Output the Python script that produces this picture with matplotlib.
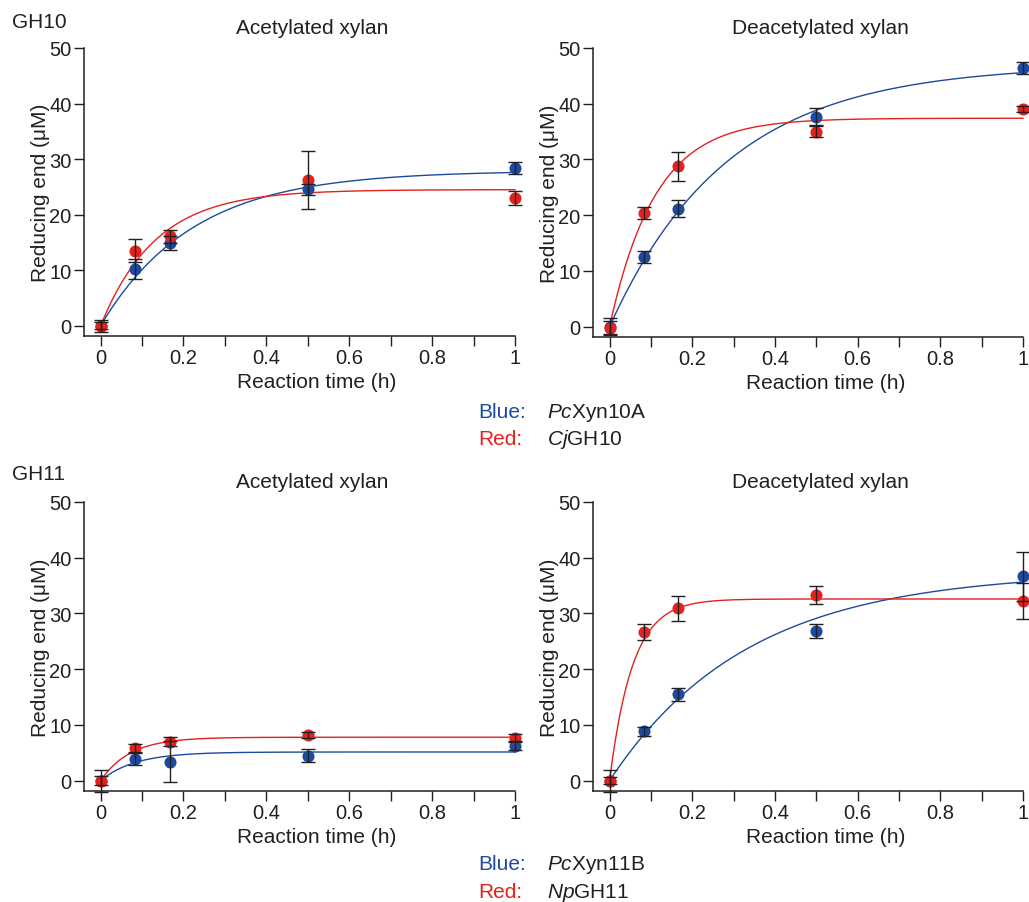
#!/usr/bin/env python
"""
plot.py
=======
Reducing-end release by GH10 / GH11 xylanases on acetylated and deacetylated xylan.
"""
import numpy as np
import matplotlib
matplotlib.use("Agg")
import matplotlib.pyplot as plt

plt.rcParams['font.family'] = ['Liberation Sans', 'DejaVu Sans']
plt.rcParams['mathtext.fontset'] = 'custom'
plt.rcParams['mathtext.rm'] = 'Liberation Sans'
plt.rcParams['mathtext.it'] = 'Liberation Sans:italic'

INK = '#231f20'
BLUE = '#1d4a9e'
RED = '#e3211d'

# reaction time (h): 0, 5, 10, 30, 60 min
time_h = [0, 0.0833, 0.1667, 0.5, 1.0]

# GH10, acetylated xylan
gh10_ac_blue = [0.0, 10.3, 14.9, 24.6, 28.4]
gh10_ac_blue_err = [1.1, 1.8, 1.3, 1.0, 1.1]
gh10_ac_red = [0.0, 13.5, 16.1, 26.3, 23.0]
gh10_ac_red_err = [0.6, 2.1, 1.2, 5.2, 1.2]
# GH10, deacetylated xylan
gh10_de_blue = [0.0, 12.5, 21.2, 37.7, 46.4]
gh10_de_blue_err = [1.5, 1.1, 1.6, 1.6, 1.0]
gh10_de_red = [-0.2, 20.4, 28.8, 35.0, 39.1]
gh10_de_red_err = [1.2, 1.0, 2.6, 1.0, 0.5]
# GH11, acetylated xylan
gh11_ac_blue = [0.0, 3.9, 3.4, 4.5, 6.2]
gh11_ac_blue_err = [2.0, 1.0, 3.7, 1.1, 0.7]
gh11_ac_red = [0.0, 5.8, 7.0, 8.2, 7.7]
gh11_ac_red_err = [0.8, 0.7, 0.8, 0.6, 0.6]
# GH11, deacetylated xylan
gh11_de_blue = [0.0, 8.9, 15.5, 26.9, 36.7]
gh11_de_blue_err = [2.0, 0.8, 1.2, 1.3, 4.4]
gh11_de_red = [0.0, 26.7, 30.9, 33.3, 32.2]
gh11_de_red_err = [0.6, 1.4, 2.3, 1.6, 3.2]

# first-order fits y = plateau * (1 - exp(-k t))
fit_plateau = {'gh10_ac': (27.9, 24.5), 'gh10_de': (47.0, 37.4),
               'gh11_ac': (5.15, 7.8), 'gh11_de': (37.5, 32.6)}
fit_rate = {'gh10_ac': (4.5, 7.5), 'gh10_de': (3.5, 9.0),
            'gh11_ac': (12.0, 14.0), 'gh11_de': (3.0, 18.0)}

panels = [
    ('gh10_ac', 'Acetylated xylan', gh10_ac_blue, gh10_ac_blue_err, gh10_ac_red, gh10_ac_red_err),
    ('gh10_de', 'Deacetylated xylan', gh10_de_blue, gh10_de_blue_err, gh10_de_red, gh10_de_red_err),
    ('gh11_ac', 'Acetylated xylan', gh11_ac_blue, gh11_ac_blue_err, gh11_ac_red, gh11_ac_red_err),
    ('gh11_de', 'Deacetylated xylan', gh11_de_blue, gh11_de_blue_err, gh11_de_red, gh11_de_red_err),
]

W, H = 1029, 903
fig = plt.figure(figsize=(W / 100., H / 100.), dpi=100)

# axes rectangles in pixels: left, top(of y=50), right(x=1), bottom(spine)
rects = [(84, 49, 515, 337), (593, 49, 1023, 338),
         (84, 503, 515, 792), (593, 503, 1023, 792)]

t = np.linspace(0, 1, 300)
for (key, title, yb, eb, yr, er), (l, tp, r, b) in zip(panels, rects):
    ax = fig.add_axes([l / W, 1 - b / H, (r - l) / W, (b - tp) / H])
    ax.set_xlim(-0.04, 1.0)
    ax.set_ylim(-1.85, 50)
    for s in ('top', 'right'):
        ax.spines[s].set_visible(False)
    for s in ('left', 'bottom'):
        ax.spines[s].set_color(INK)
        ax.spines[s].set_linewidth(1.1)

    (Ab, Ar), (kb, kr) = fit_plateau[key], fit_rate[key]
    ax.plot(t, Ab * (1 - np.exp(-kb * t)), color=BLUE, lw=1.0, zorder=2, clip_on=False)
    ax.plot(t, Ar * (1 - np.exp(-kr * t)), color=RED, lw=1.0, zorder=2, clip_on=False)

    ax.plot(time_h, yb, 'o', color=BLUE, ms=8.7, mew=0, zorder=3, clip_on=False)
    ax.plot(time_h, yr, 'o', color=RED, ms=8.7, mew=0, zorder=3, clip_on=False)
    ax.errorbar(time_h, yb, yerr=eb, fmt='none', ecolor=INK, elinewidth=1.0,
                capsize=4.8, capthick=1.0, zorder=4, clip_on=False)
    ax.errorbar(time_h, yr, yerr=er, fmt='none', ecolor=INK, elinewidth=1.0,
                capsize=4.8, capthick=1.0, zorder=4, clip_on=False)

    ax.set_xticks([0, 0.2, 0.4, 0.6, 0.8, 1.0])
    ax.set_xticklabels(['0', '0.2', '0.4', '0.6', '0.8', '1'])
    ax.set_xticks([0.1, 0.3, 0.5, 0.7, 0.9], minor=True)
    ax.set_yticks([0, 10, 20, 30, 40, 50])
    ax.tick_params(which='both', direction='out', length=7, width=1.0,
                   color=INK, labelcolor=INK, labelsize=14.5)
    ax.tick_params(axis='y', pad=2)
    ax.tick_params(axis='x', pad=2)

    ax.set_xlabel('Reaction time (h)', fontsize=15, color=INK)
    ax.xaxis.set_label_coords(0.54, -0.125)
    ax.set_ylabel('Reducing end (\u03bcM)', fontsize=15, color=INK)
    ax.yaxis.set_label_coords(-0.08, 0.5)
    ax.set_title(title, fontsize=15, color=INK, pad=11)
    ax.title.set_position((0.53, 1.0))

# group labels
fig.text(12 / W, 1 - 22 / H, 'GH10', fontsize=15, color=INK, va='center', ha='left')
fig.text(12 / W, 1 - 475 / H, 'GH11', fontsize=15, color=INK, va='center', ha='left')

# colour keys
keys = [(413, 'Blue:', BLUE, r'$\mathit{Pc}$Xyn10A'),
        (440, 'Red:', RED, r'$\mathit{Cj}$GH10'),
        (865, 'Blue:', BLUE, r'$\mathit{Pc}$Xyn11B'),
        (893, 'Red:', RED, r'$\mathit{Np}$GH11')]
for y, word, col, name in keys:
    fig.text(478 / W, 1 - y / H, word, fontsize=15, color=col, va='center', ha='left')
    fig.text(547 / W, 1 - y / H, name, fontsize=15, color=INK, va='center', ha='left')

fig.savefig('out.png', dpi=100)
